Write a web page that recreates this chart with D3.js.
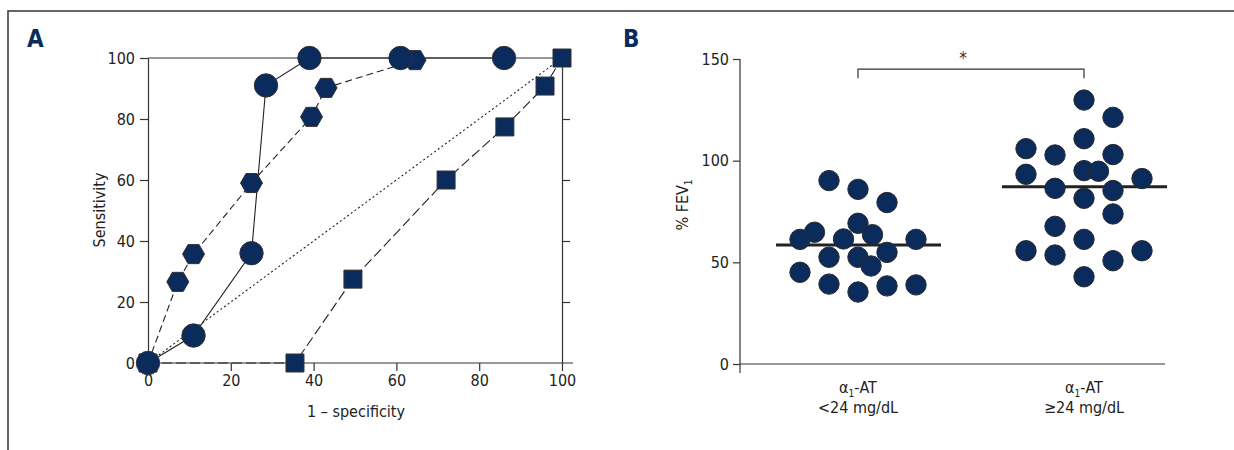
<!DOCTYPE html>
<html>
<head>
<meta charset="utf-8">
<script src="https://cdn.jsdelivr.net/npm/d3@7"></script>
<style>
body { margin: 0; background: #fff; }
text { font-family: "Liberation Sans Narrow", "DejaVu Sans Condensed", "Arial Narrow", sans-serif; fill: #222; }
.axis path, .axis line { stroke: #333; stroke-width: 1.2; }
</style>
</head>
<body>
<svg id="chart" width="1234" height="450"></svg>
<script>
// panel A - ROC curves
var rocTicks = [0, 20, 40, 60, 80, 100]
var circleX = [0, 11, 25, 28.5, 39, 61, 86]
var circleY = [0, 9, 36, 91, 100, 100, 100]
var hexX = [0, 7.2, 11, 25, 39.5, 43, 64.5]
var hexY = [0, 26.6, 35.7, 59, 80.7, 90.2, 99.3]
var squareX = [0, 35.5, 49.5, 72, 86.2, 95.9, 100]
var squareY = [0, 0, 27.5, 60, 77.4, 90.8, 100]
var refX = [0, 100]
var refY = [0, 100]

// panel B - % FEV1 by a1-AT group
var groups = ["low", "high"]
var fevTicks = [0, 50, 100, 150]
var lowFev = [90.2, 85.9, 79.4, 69.2, 64.8, 63.6, 61.3, 61.5, 61.3, 54.9, 52.5, 52.5, 48.2, 45.1, 39.3, 35.4, 38.4, 38.9]
var lowSlot = [-2, 0, 2, 0, -3, 1, -4, -1, 4, 2, -2, 0, 0.9, -4, -2, 0, 2, 4]
var highFev = [129.8, 121.3, 110.8, 105.9, 102.8, 103, 95.1, 94.8, 93.3, 91.2, 86.4, 85.3, 81.5, 73.8, 67.7, 61.3, 55.7, 55.7, 53.6, 50.8, 42.9]
var highSlot = [0, 2, 0, -4, -2, 2, 0, 1, -4, 4, -2, 2, 0, 2, -2, 0, -4, 4, -2, 2, 0]
var medians = [58.5, 87.2]
var sigLevel = [140.5, 145]

var navy = "#0a2b5c"
var svg = d3.select("#chart")

// frame
svg.append("path")
.attr("d", "M8,450V11H1234")
.attr("fill", "none")
.attr("stroke", "#333")
.attr("stroke-width", 1.5)

svg.append("text").attr("x", 27).attr("y", 47)
.style("font-family", "'DejaVu Sans Condensed', sans-serif")
.style("font-weight", "bold").style("font-size", "24px").style("fill", navy)
.text("A")

svg.append("text").attr("x", 623).attr("y", 47)
.style("font-family", "'DejaVu Sans Condensed', sans-serif")
.style("font-weight", "bold").style("font-size", "24px").style("fill", navy)
.text("B")

// ---------- panel A ----------
var aX = d3.scaleLinear().domain([0, 100]).range([148, 562])
var aY = d3.scaleLinear().domain([0, 100]).range([363, 58])

var bottomAxis = svg.append("g").attr("class", "axis")
.attr("transform", "translate(0,363)")
.call(d3.axisBottom(aX).tickValues(rocTicks).tickSize(8).tickSizeOuter(0).tickPadding(4))
bottomAxis.select(".domain").attr("d", "M" + aX(0) + ",0H" + (aX(100) + 11))

svg.append("g").attr("class", "axis")
.attr("transform", "translate(148,0)")
.call(d3.axisLeft(aY).tickValues(rocTicks).tickSize(8).tickSizeOuter(0).tickPadding(5))

svg.append("g").attr("class", "axis")
.attr("transform", "translate(562,0)")
.call(d3.axisRight(aY).tickValues(rocTicks.slice(1, 5)).tickSize(8).tickSizeOuter(0).tickFormat(""))

svg.append("line")
.attr("x1", aX(0)).attr("x2", aX(100))
.attr("y1", aY(100)).attr("y2", aY(100))
.attr("stroke", "#333").attr("stroke-width", 1.2)

svg.selectAll(".axis text").style("font-size", "16px")

svg.append("text")
.attr("transform", "translate(105,210) rotate(-90)")
.attr("text-anchor", "middle")
.style("font-size", "16px")
.text("Sensitivity")

svg.append("text")
.attr("x", 356).attr("y", 417)
.attr("text-anchor", "middle")
.style("font-size", "16px")
.text("1 – specificity")

var makePoints = function(xs, ys)
{
    return xs.map(function(x, i) { return {x: x, y: ys[i]} })
}

var rocLine = d3.line()
.x(function(d) { return aX(d.x) })
.y(function(d) { return aY(d.y) })

var series = [
    {pts: makePoints(refX, refY), dash: "2,2.5", shape: null},
    {pts: makePoints(squareX, squareY), dash: "10,4", shape: "square"},
    {pts: makePoints(hexX, hexY), dash: "7,4", shape: "hex"},
    {pts: makePoints(circleX, circleY), dash: null, shape: "circle"}
]

series.forEach(function(s)
{
    svg.append("path")
    .attr("d", rocLine(s.pts))
    .attr("fill", "none")
    .attr("stroke", "#222")
    .attr("stroke-width", 1.1)
    .attr("stroke-dasharray", s.dash)
})

var hexagon = function(r)
{
    var pts = d3.range(6).map(function(i)
    {
        var a = i * Math.PI / 3
        return [r * Math.cos(a), r * Math.sin(a)]
    })
    return "M" + pts.join("L") + "Z"
}

series.forEach(function(s)
{
    if (!s.shape) return
    svg.append("g")
    .selectAll("path")
    .data(s.pts)
    .enter()
    .append("path")
    .attr("transform", function(d) { return "translate(" + aX(d.x) + "," + aY(d.y) + ")" })
    .attr("fill", navy)
    .attr("stroke", "#333")
    .attr("stroke-width", 1)
    .attr("d", function()
    {
        if (s.shape == "square") return "M-9,-9H9V9H-9Z"
        if (s.shape == "hex") return hexagon(11)
        return d3.symbol().type(d3.symbolCircle).size(Math.PI * 11.7 * 11.7)()
    })
})

// ---------- panel B ----------
var bY = d3.scaleLinear().domain([0, 150]).range([364, 59])
var bX = d3.scalePoint().domain(groups).range([745, 1197]).padding(0.5)
var slot = d3.scaleLinear().domain([-4, 4]).range([-58, 58])

var leftAxis = svg.append("g").attr("class", "axis")
.attr("transform", "translate(740,0)")
.call(d3.axisLeft(bY).tickValues(fevTicks).tickSize(7).tickSizeOuter(0).tickPadding(4))
leftAxis.select(".domain").attr("d", "M0," + bY(150) + "V" + (bY(0) + 9))
leftAxis.selectAll("text").style("font-size", "16px")

svg.append("line")
.attr("x1", 740).attr("x2", 1165)
.attr("y1", bY(0)).attr("y2", bY(0))
.attr("stroke", "#333").attr("stroke-width", 1.2)

var fevLabel = svg.append("text")
.attr("transform", "translate(688,205) rotate(-90)")
.attr("text-anchor", "middle")
.style("font-size", "16px")
fevLabel.append("tspan").text("% FEV")
fevLabel.append("tspan").attr("dy", 4).style("font-size", "10px").text("1")

// category labels
var catLines = [["<24 mg/dL"], ["≥24 mg/dL"]]
groups.forEach(function(g, i)
{
    var t = svg.append("text")
    .attr("x", bX(g)).attr("y", 393)
    .attr("text-anchor", "middle")
    .style("font-size", "16px")
    t.append("tspan").text("α")
    t.append("tspan").attr("dy", 4).style("font-size", "10px").text("1")
    t.append("tspan").attr("dy", -4).text("-AT")

    svg.append("text")
    .attr("x", bX(g)).attr("y", 413)
    .attr("text-anchor", "middle")
    .style("font-size", "16px")
    .text(catLines[i][0])
})

// median lines
svg.append("g")
.selectAll("line")
.data(medians)
.enter()
.append("line")
.attr("x1", function(m, i) { return bX(groups[i]) - 82 })
.attr("x2", function(m, i) { return bX(groups[i]) + 83 })
.attr("y1", function(m) { return bY(m) })
.attr("y2", function(m) { return bY(m) })
.attr("stroke", "#222")
.attr("stroke-width", 3)

// dots
var dots = makePoints(lowSlot, lowFev).map(function(d) { d.g = groups[0]; return d })
.concat(makePoints(highSlot, highFev).map(function(d) { d.g = groups[1]; return d }))

svg.append("g")
.selectAll("circle")
.data(dots)
.enter()
.append("circle")
.attr("cx", function(d) { return bX(d.g) + slot(d.x) })
.attr("cy", function(d) { return bY(d.y) })
.attr("r", 10.2)
.attr("fill", navy)
.attr("stroke", "#2a2a2a")
.attr("stroke-width", 1)

// significance bracket
svg.append("path")
.attr("d", "M" + bX(groups[0]) + "," + bY(sigLevel[0]) + "V" + bY(sigLevel[1]) +
    "H" + bX(groups[1]) + "V" + bY(sigLevel[0]))
.attr("fill", "none")
.attr("stroke", "#333")
.attr("stroke-width", 1.2)

svg.append("text")
.attr("x", (bX(groups[0]) + bX(groups[1])) / 2 - 8)
.attr("y", bY(sigLevel[1]) - 5)
.attr("text-anchor", "middle")
.style("font-size", "17px")
.style("fill", "#333")
.text("*")
</script>
</body>
</html>
